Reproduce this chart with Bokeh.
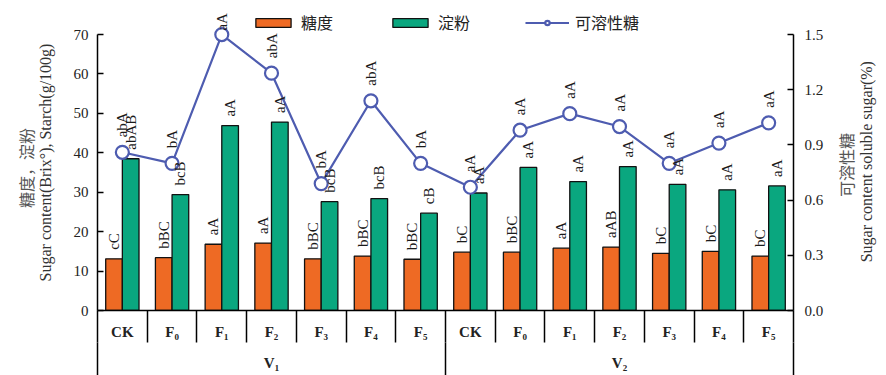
import math
from bokeh.plotting import figure
from bokeh.layouts import row
from bokeh.models import Range1d, LinearAxis, FixedTicker, NumeralTickFormatter
from bokeh.core.properties import value
from bokeh.embed import file_html
from bokeh.resources import INLINE

# ---------------- data ----------------
groups = ["V₁", "V₂"]
treatments = ["CK", "F₀", "F₁", "F₂", "F₃", "F₄", "F₅"]
brix = [13.1, 13.4, 16.8, 17.1, 13.1, 13.8, 13.0,
        14.8, 14.8, 15.8, 16.1, 14.5, 15.0, 13.8]
starch = [38.5, 29.4, 46.9, 47.8, 27.6, 28.4, 24.7,
          29.8, 36.3, 32.7, 36.5, 32.0, 30.6, 31.6]
soluble = [0.86, 0.80, 1.50, 1.29, 0.69, 1.14, 0.80,
           0.67, 0.98, 1.07, 1.00, 0.80, 0.91, 1.02]
brix_sig = ["cC", "bBC", "aA", "aA", "bBC", "bBC", "bBC",
            "bC", "bBC", "aA", "aAB", "bC", "bC", "bC"]
starch_sig = ["abAB", "bcB", "aA", "aA", "bcB", "bcB", "cB",
              "aA", "aA", "aA", "aA", "aA", "aA", "aA"]
soluble_sig = ["abA", "bA", "aA", "abA", "bA", "abA", "bA",
               "aA", "aA", "aA", "aA", "aA", "aA", "aA"]
left_ticks = [0, 10, 20, 30, 40, 50, 60, 70]
right_ticks = [0.0, 0.3, 0.6, 0.9, 1.2, 1.5]
left_title = ["糖度，淀粉", "Sugar content(Brix°), Starch(g/100g)"]
right_title = ["可溶性糖", "Sugar content soluble sugar(%)"]

# ---------------- styles ----------------
ORANGE = "#EE6A24"
GREEN = "#0AA77F"
BLUE = "#4E5CB0"
SERIF = "Liberation Serif"
CJK = "Noto Sans CJK SC"

H = 375
WL, WP, WR = 60, 770, 56          # left title strip, main plot, right title strip
BL, BR, BT, BB = 37, 37, 10, 65
n = len(brix)
labels = [t for g in groups for t in treatments]
xc = [i + 0.5 for i in range(n)]
bar_w = 0.335
x_b = [x - bar_w / 2 for x in xc]
x_s = [x + bar_w / 2 for x in xc]

left_max = left_ticks[-1]
right_max = right_ticks[-1]
ytop = 76.1
rtop = right_max * ytop / left_max

p = figure(width=WP, height=H, x_range=Range1d(0, n), y_range=Range1d(0, ytop),
           output_backend="svg", toolbar_location=None,
           min_border_left=BL, min_border_right=BR, min_border_top=BT, min_border_bottom=BB)
p.extra_y_ranges = {"right": Range1d(0, rtop)}
p.xgrid.visible = False
p.ygrid.visible = False
p.outline_line_color = None
p.background_fill_color = "white"

# bars
p.vbar(x=x_b, top=brix, width=bar_w, bottom=0, fill_color=ORANGE,
       line_color="#111111", line_width=1.3, legend_label="糖度")
p.vbar(x=x_s, top=starch, width=bar_w, bottom=0, fill_color=GREEN,
       line_color="#111111", line_width=1.3, legend_label="淀粉")

# line
p.line(xc, soluble, y_range_name="right", line_color=BLUE, line_width=2.2,
       legend_label="可溶性糖")
p.scatter(xc, soluble, y_range_name="right", marker="circle", size=13,
          fill_color="white", line_color=BLUE, line_width=2.2,
          legend_label="可溶性糖")

# significance labels
txt = dict(angle=math.pi / 2, text_align="left", text_baseline="middle",
           text_font=value(SERIF), text_font_size="15px",
           text_color="#1a1a1a")
p.text(x=x_b, y=brix, text=brix_sig, y_offset=-9, **txt)
p.text(x=x_s, y=starch, text=starch_sig, y_offset=-9, **txt)
line_off = [-15 if v < 0.93 * right_max else -4 for v in soluble]
p.text(x=xc, y=soluble, text=soluble_sig, y_offset=line_off,
       y_range_name="right", **txt)

def style_y(ax, standoff):
    ax.major_tick_in = 6
    ax.major_tick_out = 0
    ax.minor_tick_in = 0
    ax.minor_tick_out = 0
    ax.minor_tick_line_color = None
    ax.axis_line_width = 1.5
    ax.major_tick_line_width = 1.5
    ax.major_label_text_font = SERIF
    ax.major_label_text_font_size = "15px"
    ax.major_label_text_color = "#222222"
    ax.major_label_standoff = standoff

# left axis
ya = p.yaxis[0]
ya.ticker = FixedTicker(ticks=left_ticks)
ya.bounds = (0, left_max)
style_y(ya, 9)

# right axis
ra = LinearAxis(y_range_name="right", ticker=FixedTicker(ticks=right_ticks),
                formatter=NumeralTickFormatter(format="0.0"))
ra.bounds = (0, right_max)
style_y(ra, 11)
p.add_layout(ra, "right")

# bottom axis: treatments
xa = p.xaxis[0]
xa.ticker = FixedTicker(ticks=xc, minor_ticks=list(range(n + 1)))
xa.major_label_overrides = {x: lab for x, lab in zip(xc, labels)}
xa.major_tick_line_color = None
xa.major_tick_out = 0
xa.major_tick_in = 0
xa.minor_tick_in = -32
xa.minor_tick_out = 0
xa.minor_tick_line_width = 1.5
xa.minor_tick_line_color = "black"
xa.axis_line_width = 1.5
xa.major_label_standoff = 13
xa.major_label_text_font = SERIF
xa.major_label_text_font_style = "bold"
xa.major_label_text_font_size = "15px"
xa.major_label_text_color = "#222222"

# bottom axis: varieties
per = len(treatments)
gx = [k * per + per / 2 for k in range(len(groups))]
ga = LinearAxis(ticker=FixedTicker(ticks=gx, minor_ticks=[k * per for k in range(len(groups) + 1)]))
ga.major_label_overrides = {x: lab for x, lab in zip(gx, groups)}
ga.axis_line_color = None
ga.major_tick_line_color = None
ga.major_tick_out = 0
ga.major_tick_in = 0
ga.minor_tick_in = -40
ga.minor_tick_out = 0
ga.minor_tick_line_width = 1.5
ga.minor_tick_line_color = "black"
ga.major_label_standoff = 12
ga.major_label_text_font = SERIF
ga.major_label_text_font_style = "bold"
ga.major_label_text_font_size = "15px"
ga.major_label_text_color = "#222222"
p.add_layout(ga, "below")

# legend
lg = p.legend[0]
lg.location = "top_center"
lg.orientation = "horizontal"
lg.border_line_color = None
lg.background_fill_alpha = 0
lg.margin = 0
lg.padding = 0
lg.spacing = 55
lg.glyph_width = 44
lg.glyph_height = 11
lg.label_standoff = 6
lg.label_text_font = CJK
lg.label_text_font_size = "16px"
lg.label_text_color = "#222222"
lg.label_height = 14

# axis-title strips (rotated text, reading bottom to top)
def strip(width, lines, xs, ys):
    q = figure(width=width, height=H, x_range=Range1d(0, width), y_range=Range1d(0, H),
               output_backend="svg", toolbar_location=None,
               x_axis_location=None, y_axis_location=None, min_border=0)
    q.xgrid.visible = False
    q.ygrid.visible = False
    q.outline_line_color = None
    fonts = [CJK, SERIF]
    colors = ["#555555", "#333333"]
    for t, x, y, f, c in zip(lines, xs, ys, fonts, colors):
        q.text(x=[x], y=[H - y], text=[t], angle=math.pi / 2, text_align="center",
               text_baseline="middle", text_font=value(f), text_font_size="16px",
               text_color=c)
    return q

qL = strip(WL, left_title, [25, 45], [197, 190])
qR = strip(WR, right_title, [845 - WL - WP, 866 - WL - WP], [193, 189])

layout = row(qL, p, qR, spacing=0)
open("out.html", "w").write(file_html(layout, INLINE))
